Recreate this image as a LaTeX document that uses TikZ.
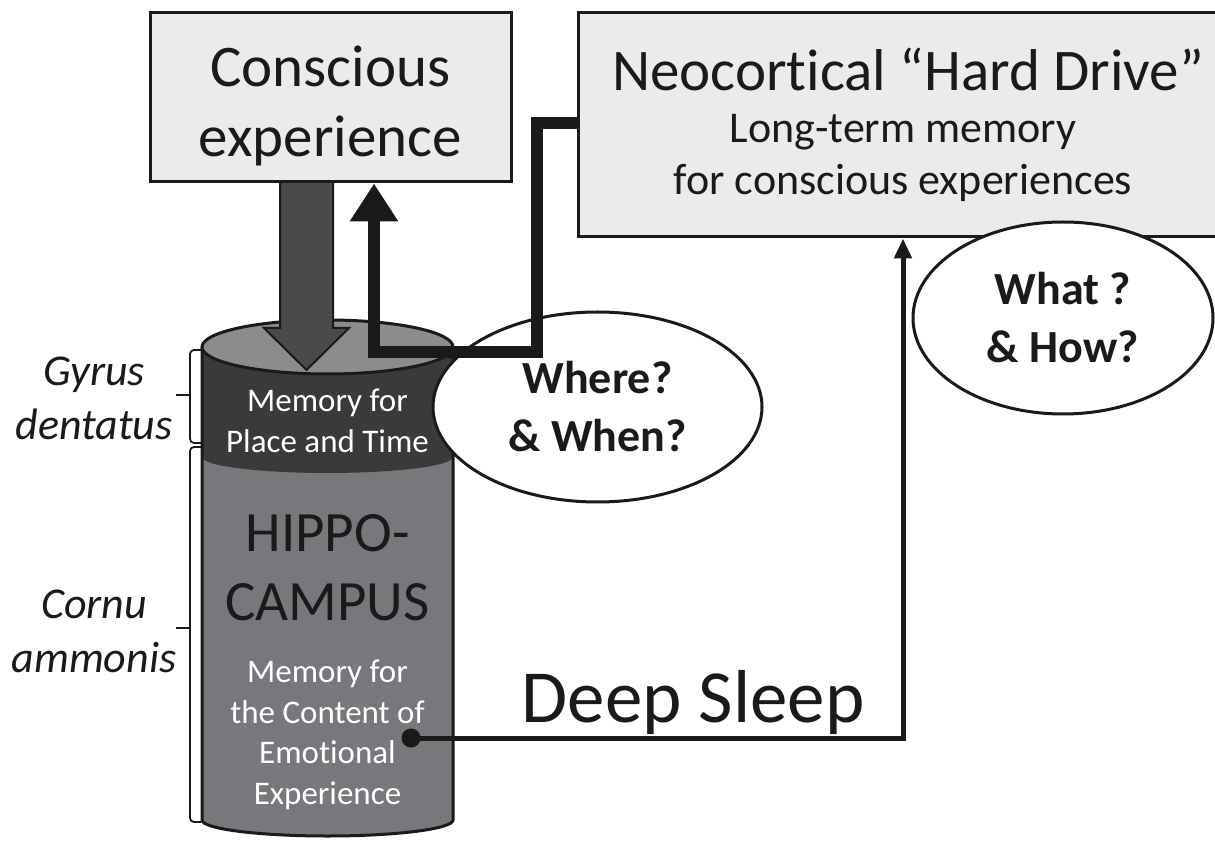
\documentclass[tikz,border=0pt]{standalone}
\usepackage{fontspec}
\setmainfont{Carlito}[Ligatures=NoCommon]
\usetikzlibrary{arrows.meta,shapes.geometric}
\definecolor{boxfill}{HTML}{EBEBEB}
\definecolor{topgray}{HTML}{8C8C8E}
\definecolor{bandgray}{HTML}{3A3A3B}
\definecolor{bodygray}{HTML}{77787B}
\definecolor{arrowgray}{HTML}{4A4A4B}
\definecolor{ink}{HTML}{1A1A1A}

\begin{document}
\begin{tikzpicture}[x=1pt, y=1pt,
  every node/.style={inner sep=0pt, text=ink},
  memorybox/.style={draw=ink, line width=3pt, fill=boxfill},
  question/.style={draw=ink, line width=3pt, fill=white, ellipse,
    align=center, font=\fontsize{46}{58}\selectfont\bfseries},
  region/.style={align=center, font=\fontsize{44}{54}\selectfont\itshape},
  cyltext/.style={align=center, text=white, font=\fontsize{33}{40.5}\selectfont},
  feedline/.style={draw=ink, line width=12pt, line join=miter,
    -{Triangle[width=46pt,length=38pt]}},
  sleepline/.style={draw=ink, line width=5pt, line join=miter,
    -{Triangle[width=17pt,length=20pt]}},
  bracket/.style={draw=ink, line width=1.8pt, rounded corners=4pt}]
  \useasboundingbox (0,0) rectangle (1215,847);
  \clip (0,0) rectangle (1215,847);

  % boxes
  \node [memorybox, minimum width=361, minimum height=169] (conscious) at (330.5,749.5) {};
  \node [memorybox, minimum width=660, minimum height=224] (neo) at (908,722) {};
  \node [align=center, font=\fontsize{59}{70}\selectfont] (consciouslbl) at (330.5,741) {Conscious\\experience};
  \node [anchor=base, font=\fontsize{59}{70}\selectfont] (neolbl) at (908,756) {Neocortical “Hard Drive”};
  \node [anchor=base, font=\fontsize{44}{52}\selectfont] (longterm) at (903,704) {Long-term memory};
  \node [anchor=base, font=\fontsize{44}{52}\selectfont] (forexp) at (903,652) {for conscious experiences};

  % hippocampus cylinder
  \fill [bodygray] (202,500) -- (202,27) arc [start angle=180, end angle=360, x radius=125.5, y radius=16] -- (453,500) -- cycle;
  \fill [bandgray] (202,500) -- (202,390) arc [start angle=180, end angle=360, x radius=125.5, y radius=16] -- (453,500) -- cycle;
  \draw [ink, line width=3pt] (202,500) -- (202,27) arc [start angle=180, end angle=360, x radius=125.5, y radius=16] -- (453,500);
  \filldraw [fill=topgray, draw=ink, line width=3pt] (327.5,500) ellipse [x radius=125.5, y radius=27];
  \node [cyltext] (placetime) at (327.5,426) {Memory for\\Place and Time};
  \node [align=center, font=\fontsize{57}{69}\selectfont] (hippo) at (327.5,279) {HIPPO-\\CAMPUS};
  \node [cyltext] (emotion) at (327.5,112) {Memory for\\the Content of\\Emotional\\Experience};

  % storage arrow
  \filldraw [fill=arrowgray, draw=ink, line width=2pt]
    (280,665) -- (280,519) -- (264,519) -- (306.5,477) -- (349,519) -- (333,519) -- (333,665) -- cycle;

  % regions
  \draw [bracket] (201,497) -- (190,497) -- (190,404) -- (201,404);
  \draw [bracket] (190,452) -- (176,452);
  \draw [bracket] (201,400) -- (190,400) -- (190,25) -- (201,25);
  \draw [bracket] (190,219) -- (176,219);
  \node [region] (gyrus) at (94,449) {Gyrus\\dentatus};
  \node [region] (cornu) at (94,216) {Cornu\\ammonis};

  % questions
  \node [question, minimum width=329, minimum height=190] (where) at (597.5,440) {Where?\\\& When?};
  \node [question, minimum width=300, minimum height=192] (what) at (1063,529) {What ?\\\& How?};

  % connectors
  \coordinate (bend) at (374,495);
  \draw [feedline] (neo.west |- 0,724) -| (537,495) -- (bend) -- (bend |- conscious.south);
  \node [circle, fill=ink, minimum size=19pt] (dot) at (411,109) {};
  \coordinate (turn) at (903,109);
  \draw [sleepline] (dot.center) -- (turn) -- (turn |- neo.south);
  \node [anchor=base, font=\fontsize{75}{90}\selectfont] (sleep) at (693,125) {Deep Sleep};
\end{tikzpicture}
\end{document}
